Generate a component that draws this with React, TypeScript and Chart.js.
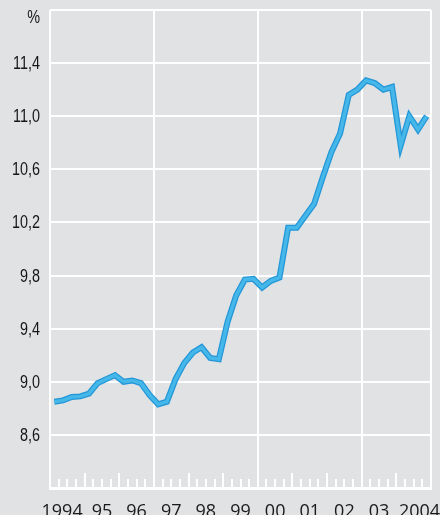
import React, { useEffect, useRef } from 'react';
import { Chart, registerables } from 'chart.js';

Chart.register(...registerables);

// ---- data ----
const years = [1994, 1995, 1996, 1997, 1998, 1999, 2000, 2001, 2002, 2003, 2004];
const yearLabels = ['1994', '95', '96', '97', '98', '99', '00', '01', '02', '03', '2004'];
// quarterly values, %, 1994 Q1 … 2004 Q4
const quarterlyRate = [
  8.85, 8.86, 8.885, 8.89,
  8.91, 8.99, 9.02, 9.05,
  9.0, 9.01, 8.99, 8.9,
  8.83, 8.85, 9.02, 9.14,
  9.22, 9.26, 9.18, 9.17,
  9.45, 9.65, 9.77, 9.775,
  9.71, 9.76, 9.785, 10.16,
  10.16, 10.25, 10.34, 10.54,
  10.73, 10.87, 11.16, 11.2,
  11.27, 11.25, 11.2, 11.22,
  10.78, 11.0, 10.9, 11.0,
];
const Y_MIN = 8.2;
const Y_MAX = 11.8;
const Y_STEP = 0.4;
const Y_UNIT = '%';
const gridYears = [1994, 1997, 2000, 2003, 2005];
const labelNudge = [-0.15, 0, 0, 0, 0, 0, 0, 0, 0, 0, 0.17];

const W = 440;
const H = 530;
const BOTTOM = 488;

const points = quarterlyRate.map((v, i) => ({
  x: years[0] + Math.floor(i / 4) + ((i % 4) + 0.5) / 4,
  y: v,
}));

function formatY(v: number): string {
  const r = Math.round(v * 10) / 10;
  if (Math.abs(r - Y_MAX) < 1e-6) return Y_UNIT;
  if (Math.abs(r - Y_MIN) < 1e-6) return '';
  return r.toFixed(1).replace('.', ',');
}

const quarterTicks = {
  id: 'quarterTicks',
  beforeDatasetsDraw(chart: any) {
    const { ctx, chartArea, scales } = chart;
    const xs = scales.x;
    ctx.save();
    ctx.strokeStyle = '#ffffff';
    ctx.lineWidth = 2;
    years.forEach((y) => {
      for (let q = 0; q < 4; q++) {
        const px = Math.round(xs.getPixelForValue(y + q / 4));
        const len = q === 0 ? 15 : 9;
        ctx.beginPath();
        ctx.moveTo(px, chartArea.bottom);
        ctx.lineTo(px, chartArea.bottom - len);
        ctx.stroke();
      }
    });
    ctx.restore();
  },
};

// condensed y-axis labels (the reference uses a narrow face)
const condensedYLabels = {
  id: 'condensedYLabels',
  afterDraw(chart: any) {
    const { ctx, scales } = chart;
    const ys = scales.y;
    ctx.save();
    ctx.fillStyle = '#161616';
    ctx.font = "18px 'Liberation Sans', Arial, sans-serif";
    ctx.textAlign = 'right';
    ctx.textBaseline = 'middle';
    ys.ticks.forEach((t: any) => {
      const txt = formatY(t.value);
      if (!txt) return;
      let py = ys.getPixelForValue(t.value);
      if (txt === Y_UNIT) py += 7;
      ctx.save();
      ctx.translate(ys.right - 10, py + 1);
      ctx.scale(0.8, 1);
      ctx.fillText(txt, 0, 0);
      ctx.restore();
    });
    ctx.restore();
  },
};

export default function App() {
  const ref = useRef<HTMLCanvasElement | null>(null);

  useEffect(() => {
    if (!ref.current) return;
    const chart = new Chart(ref.current, {
      type: 'line',
      data: {
        datasets: [
          {
            data: points,
            borderColor: '#45b7e9',
            borderWidth: 3.5,
            pointRadius: 0,
            tension: 0,
            order: 0,
          },
          {
            data: points,
            borderColor: '#2396d7',
            borderWidth: 6,
            pointRadius: 0,
            tension: 0,
            order: 1,
          },
        ],
      },
      options: {
        animation: false,
        responsive: false,
        layout: { padding: { top: 10, right: 9, bottom: 0, left: 0 } },
        plugins: {
          legend: { display: false },
          tooltip: { enabled: false },
          title: { display: false },
        },
        scales: {
          x: {
            type: 'linear',
            min: 1994,
            max: 2005,
            afterBuildTicks: (scale: any) => {
              const t: any[] = gridYears.map((v) => ({ value: v, lbl: '' }));
              yearLabels.forEach((l, i) => t.push({ value: years[i] + 0.5 + labelNudge[i], lbl: l }));
              t.sort((a, b) => a.value - b.value);
              scale.ticks = t;
            },
            afterFit: (scale: any) => {
              scale.height = H - BOTTOM;
              scale.paddingLeft = 0;
              scale.paddingRight = 0;
            },
            ticks: {
              autoSkip: false,
              maxRotation: 0,
              minRotation: 0,
              padding: 13,
              color: '#1a1a1a',
              font: { family: "'Open Sans', sans-serif", size: 18 },
              callback: (_v: any, i: number, ticks: any[]) => (ticks[i] && ticks[i].lbl) || '',
            },
            grid: {
              drawTicks: false,
              lineWidth: 2,
              color: (ctx: any) => (ctx.tick && ctx.tick.lbl ? 'rgba(0,0,0,0)' : '#ffffff'),
            },
            border: { display: true, color: '#ffffff', width: 3 },
          },
          y: {
            type: 'linear',
            min: Y_MIN,
            max: Y_MAX,
            afterFit: (scale: any) => {
              scale.width = 50;
              scale.paddingTop = 0;
              scale.paddingBottom = 0;
            },
            ticks: {
              stepSize: Y_STEP,
              display: false,
            },
            grid: { drawTicks: false, lineWidth: 2, color: '#ffffff' },
            border: { display: false },
          },
        },
      },
      plugins: [quarterTicks, condensedYLabels],
    });
    return () => chart.destroy();
  }, []);

  return (
    <div
      style={{
        position: 'fixed',
        left: 0,
        top: 0,
        width: W,
        height: 515,
        overflow: 'hidden',
        background: '#e1e2e4',
      }}
    >
      <canvas ref={ref} width={W} height={H} style={{ display: 'block', width: W, height: H }} />
    </div>
  );
}
